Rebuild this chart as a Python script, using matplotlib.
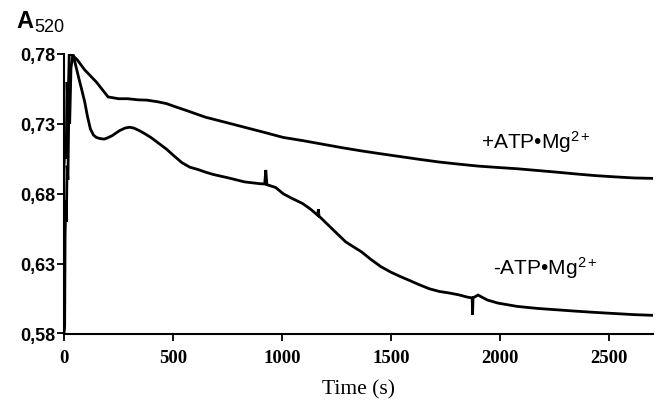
import matplotlib
matplotlib.use("Agg")
import matplotlib.pyplot as plt

plt.rcParams['mathtext.fontset'] = 'custom'
plt.rcParams['mathtext.rm'] = 'Liberation Sans'
plt.rcParams['mathtext.it'] = 'Liberation Sans:italic'
plt.rcParams['mathtext.bf'] = 'Liberation Sans:bold'

# +ATP·Mg2+ trace (time in s, absorbance)
t_plus = [0, 6, 10, 14, 18, 24, 32, 60, 95, 148, 202, 250, 291, 340, 380, 430, 470,
          515, 559, 648, 738, 827, 916, 1005, 1095, 1184, 1273, 1362, 1452, 1541,
          1630, 1720, 1809, 1898, 1988, 2077, 2166, 2255, 2345, 2434, 2523, 2613, 2700]
a_plus = [0.700, 0.720, 0.705, 0.760, 0.740, 0.780, 0.780, 0.776, 0.7686, 0.760, 0.7493,
          0.748, 0.748, 0.7472, 0.747, 0.7458, 0.7445, 0.742, 0.7397, 0.7348, 0.7312,
          0.7276, 0.724, 0.7203, 0.718, 0.7155, 0.713, 0.7107, 0.7086, 0.7066, 0.7046,
          0.7027, 0.7012, 0.6998, 0.6988, 0.6979, 0.6967, 0.6955, 0.6942, 0.6930,
          0.6921, 0.6913, 0.6910]

# -ATP·Mg2+ trace
t_minus = [0, 3, 5, 8, 11, 14, 18, 22, 26, 32, 41, 55, 68, 82, 95, 108, 121, 135, 148,
           165, 184, 200, 220, 255, 280, 300, 320, 345, 370, 398, 435, 470, 505, 541,
           577, 613, 648, 684, 755, 827, 898, 920, 925, 930, 970, 1005, 1041, 1095,
           1130, 1163, 1166, 1169, 1220, 1255, 1291, 1327, 1363, 1407, 1452, 1497,
           1541, 1586, 1630, 1675, 1720, 1765, 1809, 1850, 1871, 1873, 1875, 1898,
           1940, 1988, 2077, 2166, 2255, 2345, 2434, 2523, 2613, 2700]
a_minus = [0.580, 0.585, 0.650, 0.675, 0.660, 0.700, 0.690, 0.740, 0.730, 0.770, 0.780,
           0.771, 0.7626, 0.754, 0.7457, 0.735, 0.7264, 0.722, 0.7203, 0.7195, 0.7191,
           0.720, 0.7215, 0.7252, 0.727, 0.7276, 0.727, 0.7252, 0.723, 0.7203, 0.716,
           0.7119, 0.707, 0.7022, 0.699, 0.6974, 0.6955, 0.6938, 0.6913, 0.6885,
           0.6872, 0.6870, 0.697, 0.6865, 0.6845, 0.680, 0.677, 0.6729, 0.669, 0.6646,
           0.669, 0.664, 0.6563, 0.651, 0.6456, 0.642, 0.6385, 0.633, 0.6279, 0.624,
           0.6208, 0.6178, 0.6148, 0.612, 0.6101, 0.609, 0.6077, 0.606, 0.6055, 0.5935,
           0.6055, 0.6075, 0.604, 0.6018, 0.5994, 0.598, 0.597, 0.596, 0.5951, 0.5943,
           0.5935, 0.593]

yticks = [0.58, 0.63, 0.68, 0.73, 0.78]
ytick_labels = ['0,58', '0,63', '0,68', '0,73', '0,78']
xticks = [0, 500, 1000, 1500, 2000, 2500]
xtick_labels = ['0', '500', '1000', '1500', '2000', '2500']

W, H = 661, 402
fig = plt.figure(figsize=(W / 100, H / 100), dpi=100)
ax = fig.add_axes([64 / W, 1 - 334.5 / H, (653 - 64) / W, (334.5 - 55) / H])

ax.plot(t_plus, a_plus, color='black', lw=2.0, solid_joinstyle='miter')
ax.plot(t_minus, a_minus, color='black', lw=2.0, solid_joinstyle='miter')

ax.set_xlim(0, 2700)
ax.set_ylim(0.58, 0.78)
ax.set_xticks(xticks)
ax.set_xticklabels(xtick_labels, fontfamily='Liberation Serif', fontweight='bold', fontsize=13.5)
ax.set_yticks(yticks)
ax.set_yticklabels(ytick_labels, fontfamily='Liberation Sans', fontweight='bold', fontsize=13)
for s in ['top', 'right']:
    ax.spines[s].set_visible(False)
for s in ['left', 'bottom']:
    ax.spines[s].set_linewidth(1.5)
    ax.spines[s].set_color('black')
ax.tick_params(axis='both', direction='out', length=5, width=1.3, colors='black')
ax.tick_params(axis='y', pad=1.5)
ax.tick_params(axis='x', pad=6.5)

ax.set_xlabel('Time (s)', fontfamily='Liberation Serif', fontsize=15.5, labelpad=9)

fig.text(16 / W, 1 - 28.5 / H, 'A', fontfamily='Liberation Sans', fontweight='bold',
         fontsize=17, ha='left', va='baseline')
fig.text(34 / W, 1 - 32 / H, '520', fontfamily='Liberation Sans',
         fontsize=13, ha='left', va='baseline')

ax.text(1910, 0.7131, '+ATP\u2022Mg$^{\\mathrm{2+}}$', fontfamily='Liberation Sans',
        fontsize=15, ha='left', va='baseline')
ax.text(1965, 0.6225, '-ATP\u2022Mg$^{\\mathrm{2+}}$', fontfamily='Liberation Sans',
        fontsize=15, ha='left', va='baseline')

fig.savefig('out.png', dpi=100)
